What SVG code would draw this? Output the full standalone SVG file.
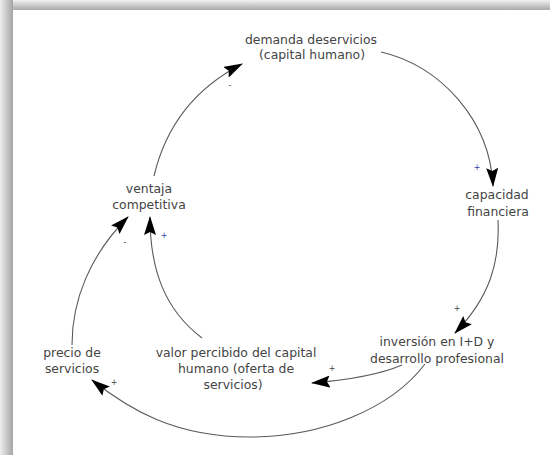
<svg xmlns="http://www.w3.org/2000/svg" width="550" height="455" viewBox="0 0 550 455">
<defs>
<linearGradient id="gTop" x1="0" y1="0" x2="0" y2="1">
<stop offset="0" stop-color="#f2f2f2"/><stop offset="1" stop-color="#a9a9a9"/>
</linearGradient>
<linearGradient id="gLeft" x1="0" y1="0" x2="1" y2="0">
<stop offset="0" stop-color="#eeeeee"/><stop offset="1" stop-color="#a5a5a5"/>
</linearGradient>
<marker id="ah" markerUnits="userSpaceOnUse" viewBox="0 0 19 12" markerWidth="19" markerHeight="12" refX="18" refY="6" orient="auto">
<path d="M0,0 L19,6 L0,12 L3,6 z" fill="#000"/>
</marker>
<style>
.t{font-family:"DejaVu Sans","Liberation Sans",sans-serif;font-size:12.4px;fill:#444;text-anchor:middle}
.c{fill:none;stroke:#5a5a5a;stroke-width:1.1;marker-end:url(#ah)}
.s{font-family:"DejaVu Sans","Liberation Sans",sans-serif;font-size:8px;fill:#444;text-anchor:middle}
.b{fill:#3a3aa8}
</style>
</defs>
<rect x="0" y="0" width="550" height="455" fill="#ffffff"/>
<rect x="0" y="0" width="550" height="10" fill="url(#gTop)"/>
<rect x="0" y="0" width="13" height="455" fill="url(#gLeft)"/>
<path d="M13,455 L13,13 Q13,10 16,10 L550,10 L550,455 z" fill="#ffffff"/>
<g id="connectors">
<path class="c" d="M154,176 Q172,100 242,64"/>
<path class="c" d="M381,52 C440,65 490,120 493,186"/>
<path class="c" d="M498,220 C500,262 490,297 455,333"/>
<path class="c" d="M402,365 Q372,378 312,383"/>
<path class="c" d="M425,364 C390,410 320,437 250,437 C175,437 130,410 92,380"/>
<path class="c" d="M72,345 C72,300 90,255 128,217"/>
<path class="c" d="M202,338 C165,310 150,270 150,217"/>
<text class="s" x="230" y="88">-</text>
<text class="s b" x="477" y="170">+</text>
<text class="s" x="457" y="311">+</text>
<text class="s" x="332" y="371">+</text>
<text class="s" x="114" y="385">+</text>
<text class="s" x="125" y="245">-</text>
<text class="s b" x="164" y="238">+</text>
</g>
<g id="demanda">
<text class="t" x="311" y="44">demanda  deservicios</text>
<text class="t" x="312" y="59">(capital humano)</text>
</g>
<g id="capacidad">
<text class="t" x="497" y="199">capacidad</text>
<text class="t" x="498" y="216">financiera</text>
</g>
<g id="inversion">
<text class="t" x="437" y="346">inversión en I+D y</text>
<text class="t" x="437" y="363">desarrollo profesional</text>
</g>
<g id="valor">
<text class="t" x="236" y="357">valor percibido del capital</text>
<text class="t" x="236" y="373">humano (oferta de</text>
<text class="t" x="233" y="389">servicios)</text>
</g>
<g id="precio">
<text class="t" x="72" y="357">precio de</text>
<text class="t" x="72" y="373">servicios</text>
</g>
<g id="ventaja">
<text class="t" x="149" y="193">ventaja</text>
<text class="t" x="149" y="209">competitiva</text>
</g>
</svg>
